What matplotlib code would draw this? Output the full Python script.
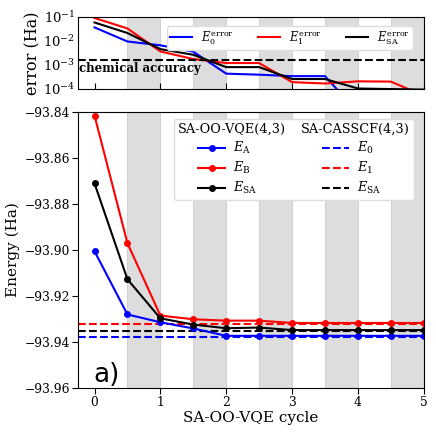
import matplotlib
matplotlib.use("Agg")
import matplotlib.pyplot as plt
from matplotlib.lines import Line2D
import numpy as np

plt.rcParams['font.family'] = ['DejaVu Serif']
plt.rcParams['mathtext.fontset'] = 'dejavuserif'
plt.rcParams['axes.unicode_minus'] = True

cycles = [0, 0.5, 1, 1.5, 2, 2.5, 3, 3.5, 4, 4.5, 5]

E_A = [-93.9005, -93.928, -93.9314, -93.9341, -93.9373, -93.9373, -93.9373, -93.9373, -93.9373, -93.9373, -93.9373]
E_B = [-93.8415, -93.897, -93.9285, -93.9301, -93.9307, -93.9307, -93.9317, -93.9317, -93.9317, -93.9317, -93.9317]
E_SA = [-93.871, -93.9127, -93.9297, -93.9324, -93.934, -93.9337, -93.9348, -93.9348, -93.9348, -93.9348, -93.9348]

E0_ref = -93.9376
E1_ref = -93.932
ESA_ref = -93.935

err_0 = [0.0366, 0.0094, 0.0065, 0.0035, 4.2e-4, 3.8e-4, 3.3e-4, 3.3e-4, 1e-5, 1e-5, 1e-5]
err_1 = [0.091, 0.033, 0.0036, 1.72e-3, 1.17e-3, 1.17e-3, 1.85e-4, 1.62e-4, 2.0e-4, 1.95e-4, 5e-5]
err_SA = [0.059, 0.0213, 4.5e-3, 2.6e-3, 7.9e-4, 7.9e-4, 2.5e-4, 2.5e-4, 1.0e-4, 9.5e-5, 9e-5]

chem_acc = 1.6e-3
bands = [(0.5, 1), (1.5, 2), (2.5, 3), (3.5, 4), (4.5, 5)]
energy_ticks = [-93.96, -93.94, -93.92, -93.90, -93.88, -93.86, -93.84]
energy_ticklabels = ['\u221293.96', '\u221293.94', '\u221293.92', '\u221293.90',
                     '\u221293.88', '\u221293.86', '\u221293.84']

fig = plt.figure(figsize=(4.36, 4.36), dpi=100)
ax1 = fig.add_axes([0.179, 0.797, 0.793, 0.164])
ax2 = fig.add_axes([0.179, 0.110, 0.793, 0.633])

band_color = '#dddddd'
for ax in (ax1, ax2):
    for a, b in bands:
        ax.axvspan(a, b, facecolor=band_color, edgecolor='#cccccc', lw=0.6, zorder=0)
    ax.set_xlim(-0.25, 5)

# top panel
ax1.semilogy(cycles, err_0, color='blue', lw=1.5, label=r'$E_0^{\rm error}$')
ax1.semilogy(cycles, err_1, color='red', lw=1.5, label=r'$E_1^{\rm error}$')
ax1.semilogy(cycles, err_SA, color='black', lw=1.5, label=r'$E_{\rm SA}^{\rm error}$')
ax1.axhline(chem_acc, color='black', ls='--', lw=1.5)
ax1.text(-0.235, chem_acc * 0.8, 'chemical accuracy', fontsize=8.5, fontweight='bold',
         va='top', ha='left')
ax1.set_ylim(1e-4, 1e-1)
ax1.set_yticks([1e-4, 1e-3, 1e-2, 1e-1])
ax1.minorticks_off()
ax1.tick_params(axis='y', labelsize=9.5, length=0, pad=2)
ax1.set_xticks([0, 1, 2, 3, 4, 5])
ax1.tick_params(axis='x', direction='in', labelbottom=False, length=4)
ax1.set_ylabel('error (Ha)', fontsize=11.5, labelpad=1)
ax1.legend(ncol=3, loc='upper right', fontsize=8.3, handlelength=1.9,
           columnspacing=2.1, handletextpad=0.8, borderpad=0.25, framealpha=1,
           edgecolor='#dddddd', bbox_to_anchor=(0.985, 0.95))

# bottom panel
ms = 4
l1, = ax2.plot(cycles, E_A, '-o', color='blue', lw=1.5, ms=ms)
l2, = ax2.plot(cycles, E_B, '-o', color='red', lw=1.5, ms=ms)
l3, = ax2.plot(cycles, E_SA, '-o', color='black', lw=1.5, ms=ms)
ax2.axhline(E0_ref, color='blue', ls='--', lw=1.5, zorder=1)
ax2.axhline(E1_ref, color='red', ls='--', lw=1.5, zorder=1)
ax2.axhline(ESA_ref, color='black', ls='--', lw=1.5, zorder=1)
ax2.set_ylim(-93.96, -93.84)
ax2.set_yticks(energy_ticks)
ax2.set_yticklabels(energy_ticklabels)
ax2.set_xticks([0, 1, 2, 3, 4, 5])
ax2.tick_params(labelsize=8.8, length=4, pad=2)
ax2.set_xlabel('SA-OO-VQE cycle', fontsize=11, labelpad=1)
ax2.set_ylabel('Energy (Ha)', fontsize=11, labelpad=3)
ax2.text(-0.02, -93.9572, 'a)', fontsize=19, family='DejaVu Sans', ha='left', va='baseline')

blank = Line2D([], [], color='none')
dl1 = Line2D([], [], color='blue', ls='--', lw=1.5)
dl2 = Line2D([], [], color='red', ls='--', lw=1.5)
dl3 = Line2D([], [], color='black', ls='--', lw=1.5)
handles = [blank, l1, l2, l3, blank, dl1, dl2, dl3]
labels = ['SA-OO-VQE(4,3)', r'$E_{\rm A}$', r'$E_{\rm B}$', r'$E_{\rm SA}$',
          'SA-CASSCF(4,3)', r'$E_0$', r'$E_1$', r'$E_{\rm SA}$']
fs = 9.3
leg = ax2.legend(handles, labels, ncol=2, loc='upper right', fontsize=fs,
                 handlelength=2.1, handletextpad=0.6, columnspacing=1.2, framealpha=1,
                 edgecolor='#dddddd', bbox_to_anchor=(0.99, 0.997),
                 borderpad=0.3, labelspacing=0.3)
indent = 15.0  # points
for col in leg._legend_handle_box.get_children():
    for row in col.get_children():
        h, t = row.get_children()
        txt = t.get_children()[0]
        if 'SA-' in txt.get_text():
            h.width = 0
            row.sep = 0
        else:
            h.width = h.width + indent
            for art in h.get_children():
                if isinstance(art, Line2D):
                    art.set_xdata(np.asarray(art.get_xdata()) + indent)

fig.savefig('out.png', dpi=100)
